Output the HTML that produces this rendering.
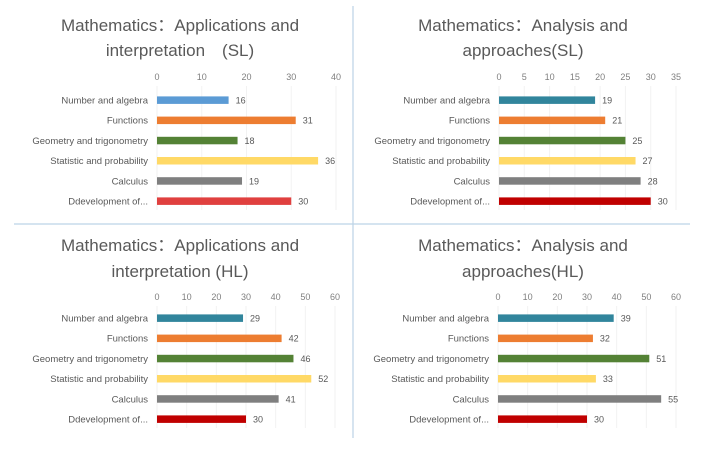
<!DOCTYPE html>
<html><head><meta charset="utf-8"><style>
html,body{margin:0;padding:0;background:#fff;}
svg{display:block;font-family:"Liberation Sans","Noto Sans CJK SC",sans-serif;}
</style></head><body>
<svg id="s" width="705" height="452" viewBox="0 0 705 452" xmlns="http://www.w3.org/2000/svg">
<rect width="705" height="452" fill="#fff"/>
<line x1="353" y1="6" x2="353" y2="438" stroke="#bcd3e6" stroke-width="1.2"/>
<line x1="14" y1="224" x2="690" y2="224" stroke="#bcd3e6" stroke-width="1.2"/>
</svg>
<script>
var s=document.getElementById('s'),NS='http://www.w3.org/2000/svg';
function el(t,a,txt){var e=document.createElementNS(NS,t);for(var k in a)e.setAttribute(k,a[k]);if(txt!=null)e.textContent=txt;s.appendChild(e);return e;}
var labels=["Number and algebra","Functions","Geometry and trigonometry","Statistic and probability","Calculus","Ddevelopment of..."];
var charts=[
 {t:["Mathematics：Applications and","interpretation　(SL)"],cx:180,ty:[31,56],x0:157,x1:336,max:40,step:10,tick:80,rows:100,v:[16,31,18,36,19,30],c:["#5b9bd5","#ed7d31","#548235","#ffd966","#7f7f7f","#e0403f"]},
 {t:["Mathematics：Analysis and","approaches(SL)"],cx:523,ty:[31,56],x0:499,x1:676,max:35,step:5,tick:80,rows:100,v:[19,21,25,27,28,30],c:["#31859c","#ed7d31","#548235","#ffd966","#7f7f7f","#c00000"]},
 {t:["Mathematics：Applications and","interpretation (HL)"],cx:180,ty:[251,277],x0:157,x1:335,max:60,step:10,tick:300,rows:318,v:[29,42,46,52,41,30],c:["#31859c","#ed7d31","#548235","#ffd966","#7f7f7f","#c00000"]},
 {t:["Mathematics：Analysis and","approaches(HL)"],cx:523,ty:[251,277],x0:498,x1:676,max:60,step:10,tick:300,rows:318,v:[39,32,51,33,55,30],c:["#31859c","#ed7d31","#548235","#ffd966","#7f7f7f","#c00000"]}
];
charts.forEach(function(ch){
 ch.t.forEach(function(l,i){el('text',{x:ch.cx,y:ch.ty[i],'text-anchor':'middle','font-size':17,fill:'#595959'},l);});
 var sc=(ch.x1-ch.x0)/ch.max;
 for(var v=0;v<=ch.max;v+=ch.step){
  var x=ch.x0+v*sc;
  el('line',{x1:x,y1:ch.tick+6,x2:x,y2:ch.rows+110,stroke:'#f2f2f2','stroke-width':1});
  el('text',{x:x,y:ch.tick,'text-anchor':'middle','font-size':9,fill:'#7f7f7f'},v);
 }
 for(var i=0;i<6;i++){
  var y=ch.rows+i*20.2;
  el('text',{x:ch.x0-9,y:y+3.5,'text-anchor':'end','font-size':9.5,fill:'#595959'},labels[i]);
  el('rect',{x:ch.x0,y:y-3.6,width:ch.v[i]*sc,height:7.5,fill:ch.c[i]});
  el('text',{x:ch.x0+ch.v[i]*sc+7,y:y+3.5,'font-size':9,fill:'#595959'},ch.v[i]);
 }
});
</script>
</body></html>
